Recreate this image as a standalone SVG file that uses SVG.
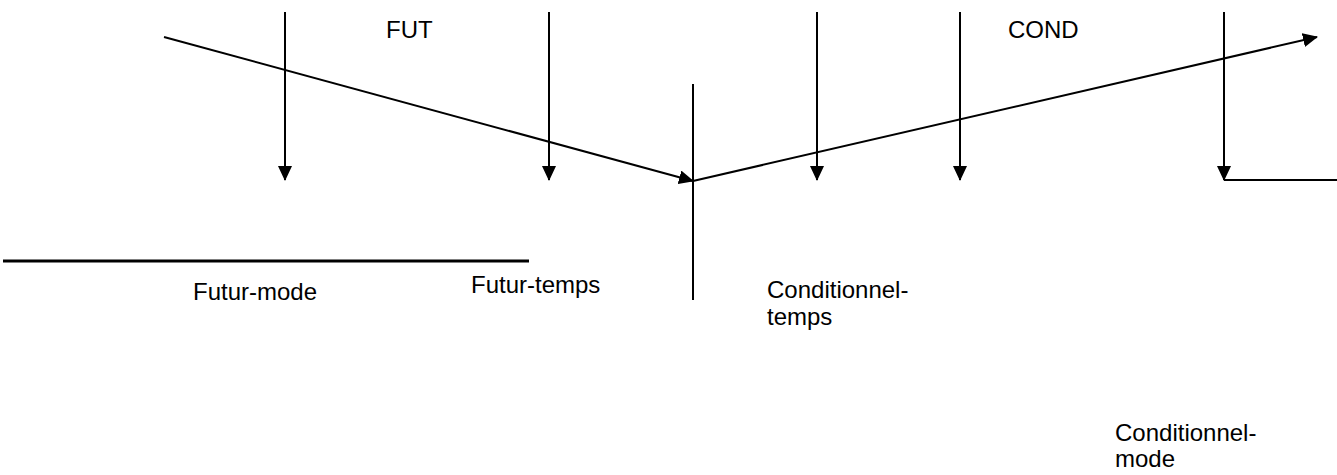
<svg xmlns="http://www.w3.org/2000/svg" width="1337" height="475" viewBox="0 0 1337 475">
<style>
.ln{stroke:#000;stroke-width:2;fill:none}
.thick{stroke:#000;stroke-width:3;fill:none}
.t{font-family:"Liberation Sans",Arial,sans-serif;font-size:24px;fill:#000}
</style>
<defs>
<marker id="ah" viewBox="0 0 15 14" refX="14" refY="7" markerWidth="15" markerHeight="14" markerUnits="userSpaceOnUse" orient="auto">
<path d="M0,0 L15,7 L0,14 z" fill="#000"/>
</marker>
</defs>
<rect width="1337" height="475" fill="#fff"/>
<g id="connectors">
<line class="ln" x1="164" y1="37" x2="693" y2="181" marker-end="url(#ah)"/>
<line class="ln" x1="693" y1="181" x2="1317" y2="37" marker-end="url(#ah)"/>
<line class="ln" x1="285" y1="12" x2="285" y2="180" marker-end="url(#ah)"/>
<line class="ln" x1="549" y1="12" x2="549" y2="180" marker-end="url(#ah)"/>
<line class="ln" x1="817" y1="12" x2="817" y2="180" marker-end="url(#ah)"/>
<line class="ln" x1="960" y1="12" x2="960" y2="180" marker-end="url(#ah)"/>
<line class="ln" x1="1224" y1="12" x2="1224" y2="180" marker-end="url(#ah)"/>
<line class="ln" x1="693" y1="84" x2="693" y2="300"/>
<line class="ln" x1="1224" y1="180" x2="1337" y2="180"/>
<line class="thick" x1="3" y1="261" x2="529" y2="261"/>
</g>
<g id="fut"><text class="t" x="386" y="38">FUT</text></g>
<g id="cond"><text class="t" x="1008" y="38">COND</text></g>
<g id="futur-mode"><text class="t" x="193" y="300">Futur-mode</text></g>
<g id="futur-temps"><text class="t" x="471" y="293">Futur-temps</text></g>
<g id="conditionnel-temps"><text class="t" x="767" y="298">Conditionnel-</text><text class="t" x="767" y="325">temps</text></g>
<g id="conditionnel-mode"><text class="t" x="1115" y="441">Conditionnel-</text><text class="t" x="1115" y="467">mode</text></g>
</svg>
